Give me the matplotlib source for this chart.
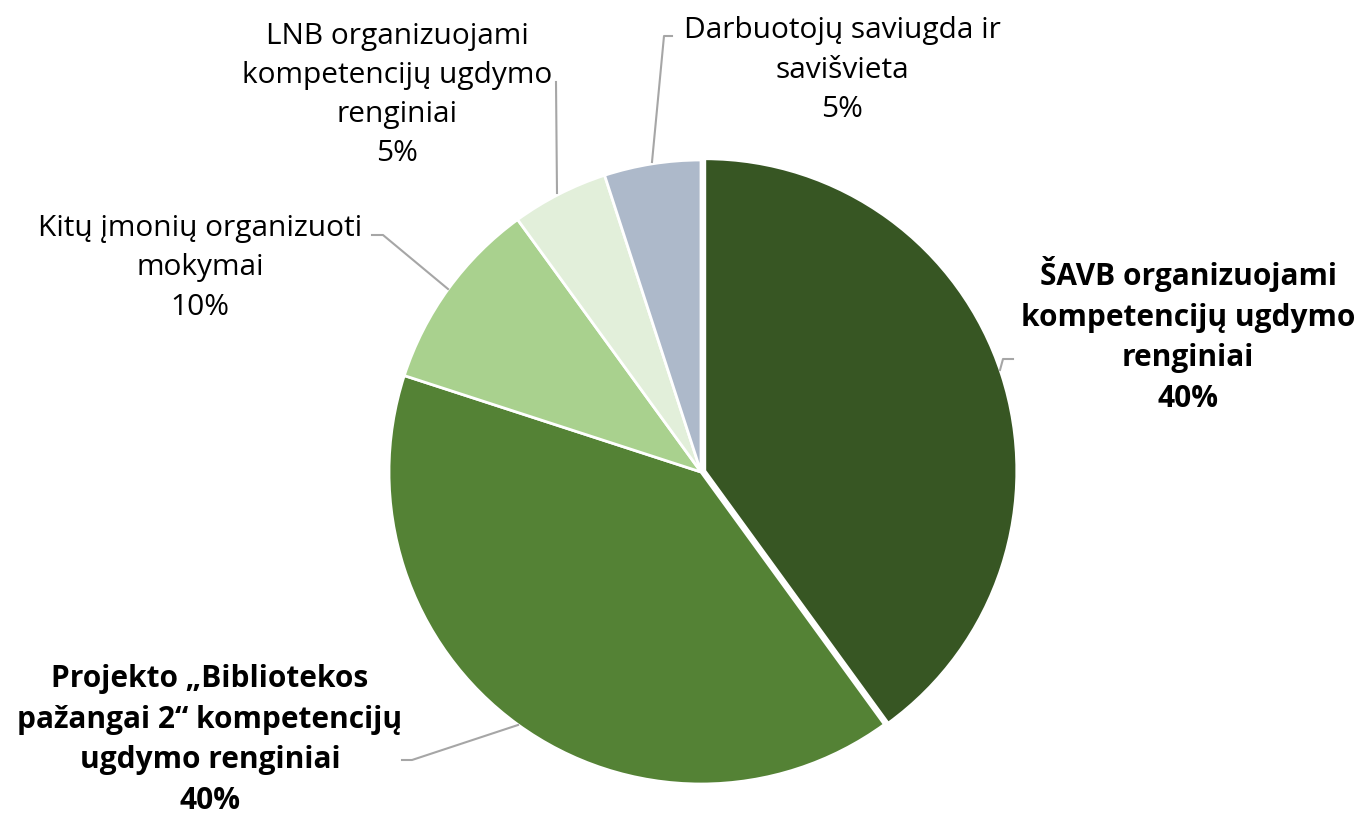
import matplotlib
matplotlib.use('Agg')
import matplotlib.pyplot as plt

plt.rcParams['font.family'] = ['Open Sans', 'DejaVu Sans']

labels = ['ŠAVB organizuojami\nkompetencijų ugdymo\nrenginiai',
          'Projekto „Bibliotekos\npažangai 2“ kompetencijų\nugdymo renginiai',
          'Kitų įmonių organizuoti\nmokymai',
          'LNB organizuojami\nkompetencijų ugdymo\nrenginiai',
          'Darbuotojų saviugda ir\nsavišvieta']
shares = [40, 40, 10, 5, 5]
colors = ['#375623', '#548235', '#A9D18E', '#E2EFDA', '#ADB9CA']
bold = [True, True, False, False, False]

# label centres (pixels from top-left) and leader lines
text_pos = [(1188, 335), (210, 740), (200, 268), (397, 95), (842, 70)]
leaders = [[(1000, 370), (1003, 359), (1013, 359)],
           [(518, 725), (412, 760), (402, 760)],
           [(448, 289), (383, 235), (372, 235)],
           [(557, 193), (556, 82)],
           [(652, 162), (664, 36), (672, 36)]]

W, H = 1369, 818
fig = plt.figure(figsize=(W / 100, H / 100), dpi=100)
ax = fig.add_axes([0, 0, 1, 1])

ax.pie(shares, colors=colors, startangle=90, counterclock=False,
       center=(701, H - 472), radius=312, explode=[4, 0, 0, 0, 0],
       wedgeprops=dict(edgecolor='white', linewidth=2))

for pts in leaders:
    ax.plot([p[0] for p in pts], [H - p[1] for p in pts], color='#A6A6A6', lw=1.5)

for lab, val, (x, y), b in zip(labels, shares, text_pos, bold):
    ax.text(x, H - y, f'{lab}\n{val}%', ha='center', va='center', fontsize=21.5,
            fontweight='bold' if b else 'normal', color='black',
            linespacing=1.46)

ax.set_xlim(0, W)
ax.set_ylim(0, H)
ax.set_aspect('equal')
ax.axis('off')

fig.savefig('out.png', dpi=100)
